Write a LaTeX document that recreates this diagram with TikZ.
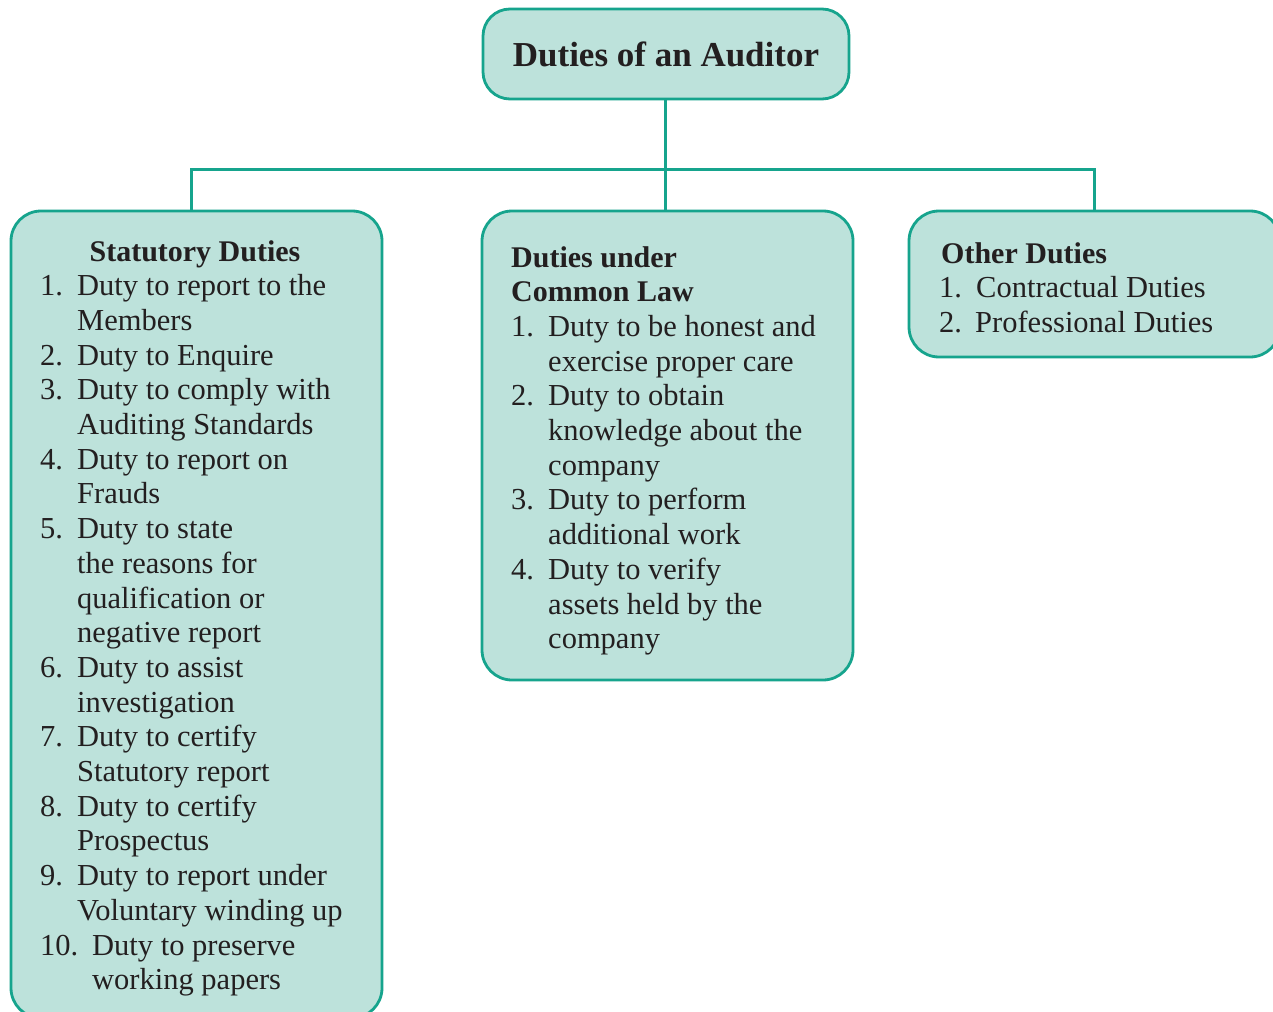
\documentclass[tikz,border=0pt]{standalone}
\usepackage{fontspec}
\setmainfont{Liberation Serif}
\definecolor{boxfill}{RGB}{189,226,219}
\definecolor{boxline}{RGB}{22,164,141}
\definecolor{ink}{RGB}{35,31,32}
\begin{document}
\begin{tikzpicture}[x=1pt,y=-1pt,
  box/.style={draw=boxline, line width=2.8pt, fill=boxfill, rounded corners=30pt, inner sep=0pt},
  link/.style={draw=boxline, line width=3pt},
  txt/.style={anchor=base west, inner sep=0pt, text=ink, font=\fontsize{30.5pt}{34.7pt}\selectfont},
  hd/.style={txt, font=\fontsize{30pt}{34.7pt}\selectfont\bfseries}]
\clip (0,0) rectangle (1273,1011);
\fill[white] (0,0) rectangle (1273,1011);
% boxes
\node[box, rounded corners=27pt, minimum width=366pt, minimum height=90pt] (top) at (666,54) {};
\node[box, minimum width=371pt, minimum height=807pt] (left) at (196.5,614.5) {};
\node[box, minimum width=371pt, minimum height=469pt] (mid) at (667.5,445.5) {};
\node[box, minimum width=371pt, minimum height=146pt] (right) at (1094.5,284) {};
% connectors
\coordinate (jl) at (191,170);
\coordinate (jr) at (1094,170);
\draw[link] (top.south -| 665,0) -- (mid.north -| 665,0);
\draw[link] (jl |- left.north) -- (jl) -- (jr) -- (jr |- right.north);
% title
\node[inner sep=0pt, text=ink, font=\fontsize{35pt}{40pt}\selectfont\bfseries] (title) at (top.center) {Duties of an Auditor};
% left box
\node[hd, anchor=base] (l0) at (195,261) {Statutory Duties};
\node[txt] (n1) at (40,{261+34.7*1}) {1.};
\node[txt] (l1) at (77,{261+34.7*1}) {Duty to report to the};
\node[txt] (l2) at (77,{261+34.7*2}) {Members};
\node[txt] (n2) at (40,{261+34.7*3}) {2.};
\node[txt] (l3) at (77,{261+34.7*3}) {Duty to Enquire};
\node[txt] (n3) at (40,{261+34.7*4}) {3.};
\node[txt] (l4) at (77,{261+34.7*4}) {Duty to comply with};
\node[txt] (l5) at (77,{261+34.7*5}) {Auditing Standards};
\node[txt] (n4) at (40,{261+34.7*6}) {4.};
\node[txt] (l6) at (77,{261+34.7*6}) {Duty to report on};
\node[txt] (l7) at (77,{261+34.7*7}) {Frauds};
\node[txt] (n5) at (40,{261+34.7*8}) {5.};
\node[txt] (l8) at (77,{261+34.7*8}) {Duty to state};
\node[txt] (l9) at (77,{261+34.7*9}) {the reasons for};
\node[txt] (l10) at (77,{261+34.7*10}) {qualification or};
\node[txt] (l11) at (77,{261+34.7*11}) {negative report};
\node[txt] (n6) at (40,{261+34.7*12}) {6.};
\node[txt] (l12) at (77,{261+34.7*12}) {Duty to assist};
\node[txt] (l13) at (77,{261+34.7*13}) {investigation};
\node[txt] (n7) at (40,{261+34.7*14}) {7.};
\node[txt] (l14) at (77,{261+34.7*14}) {Duty to certify};
\node[txt] (l15) at (77,{261+34.7*15}) {Statutory report};
\node[txt] (n8) at (40,{261+34.7*16}) {8.};
\node[txt] (l16) at (77,{261+34.7*16}) {Duty to certify};
\node[txt] (l17) at (77,{261+34.7*17}) {Prospectus};
\node[txt] (n9) at (40,{261+34.7*18}) {9.};
\node[txt] (l18) at (77,{261+34.7*18}) {Duty to report under};
\node[txt] (l19) at (77,{261+34.7*19}) {Voluntary winding up};
\node[txt] (n10) at (40,{261+34.7*20}) {10.};
\node[txt] (l20) at (92,{261+34.7*20}) {Duty to preserve};
\node[txt] (l21) at (92,{261+34.7*21}) {working papers};
% middle box
\node[hd] (m0) at (511,267) {Duties under};
\node[hd] (m1) at (511,{267+34.7*1}) {Common Law};
\node[txt] (mn1) at (511,{267+34.7*2}) {1.};
\node[txt] (m2) at (548,{267+34.7*2}) {Duty to be honest and};
\node[txt] (m3) at (548,{267+34.7*3}) {exercise proper care};
\node[txt] (mn2) at (511,{267+34.7*4}) {2.};
\node[txt] (m4) at (548,{267+34.7*4}) {Duty to obtain};
\node[txt] (m5) at (548,{267+34.7*5}) {knowledge about the};
\node[txt] (m6) at (548,{267+34.7*6}) {company};
\node[txt] (mn3) at (511,{267+34.7*7}) {3.};
\node[txt] (m7) at (548,{267+34.7*7}) {Duty to perform};
\node[txt] (m8) at (548,{267+34.7*8}) {additional work};
\node[txt] (mn4) at (511,{267+34.7*9}) {4.};
\node[txt] (m9) at (548,{267+34.7*9}) {Duty to verify};
\node[txt] (m10) at (548,{267+34.7*10}) {assets held by the};
\node[txt] (m11) at (548,{267+34.7*11}) {company};
% right box
\node[hd] (r0) at (941,263) {Other Duties};
\node[txt] (rn1) at (939,{263+34.5}) {1.};
\node[txt] (r1) at (976,{263+34.5}) {Contractual Duties};
\node[txt] (rn2) at (939,{263+69}) {2.};
\node[txt] (r2) at (975,{263+69}) {Professional Duties};
\end{tikzpicture}
\end{document}
